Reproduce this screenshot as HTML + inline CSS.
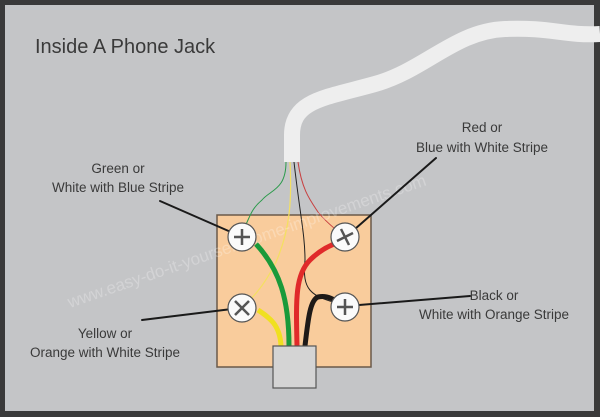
<!DOCTYPE html>
<html><head><style>
html,body{margin:0;padding:0;}
body{width:600px;height:417px;overflow:hidden;background:#333;}
svg{display:block;font-family:"Liberation Sans",sans-serif;}
</style></head><body>
<svg width="600" height="417" viewBox="0 0 600 417" xmlns="http://www.w3.org/2000/svg">
<rect x="0" y="0" width="600" height="417" fill="#3a3a3a"/>
<rect x="5" y="5" width="589" height="406" fill="#c4c5c7"/>
<text x="35" y="53" font-size="20" fill="#3a3a3a">Inside A Phone Jack</text>
<path d="M600,34 C565,36 550,27 505,29 C455,31 425,70 375,84 C325,98 292,100 292,135 L292,162" fill="none" stroke="#eeeeee" stroke-width="16"/>
<rect x="217" y="215" width="154" height="152" fill="#f9cc9c" stroke="#6a5a4a" stroke-width="1.5"/>
<path d="M286,162 C286,190 270,190 262,200 C250,210 250,218 244,228" fill="none" stroke="#2a9a4a" stroke-width="1"/>
<path d="M290,162 C292,200 290,230 276,262 C262,290 250,300 243,306" fill="none" stroke="#f4e060" stroke-width="1.2"/>
<path d="M294,162 C300,215 305,235 305,260 C302,290 310,296 340,304" fill="none" stroke="#222" stroke-width="1"/>
<path d="M298,162 C302,190 310,200 318,212 C326,222 336,230 344,236" fill="none" stroke="#c84040" stroke-width="1"/>
<path d="M281,346 C280,325 270,318 258,310" fill="none" stroke="#f0e020" stroke-width="5"/>
<path d="M289,346 C289,300 280,270 256,244" fill="none" stroke="#1a9a3a" stroke-width="5"/>
<path d="M297,346 C296,300 295,275 310,260 C320,250 330,245 340,242" fill="none" stroke="#e02a2a" stroke-width="5"/>
<path d="M305,346 C308,320 310,300 318,297 C328,295 335,300 340,304" fill="none" stroke="#1e1a18" stroke-width="5"/>
<rect x="273" y="346" width="43" height="42" fill="#d4d4d4" stroke="#555" stroke-width="1.2"/>
<text x="70" y="308" font-size="17" fill="#ffffff" fill-opacity="0.25" transform="rotate(-19 70 308)">www.easy-do-it-yourself-home-improvements.com</text>
<g stroke="#1a1a1a" stroke-linecap="round">
<path d="M160,201 L240,236" stroke-width="2"/>
<path d="M436,158 L347,236" stroke-width="2"/>
<path d="M470,296 L347,306" stroke-width="2"/>
<path d="M142,320 L240,308" stroke-width="2"/>
</g>
<g stroke="#555" stroke-width="1.2" fill="#fafafa">
<circle cx="242" cy="237" r="14"/><circle cx="345" cy="237" r="14"/>
<circle cx="242" cy="308" r="14"/><circle cx="345" cy="307" r="14"/>
</g>
<g stroke="#555" stroke-width="2.5" fill="none">
<path d="M234,237 H250 M242,229 V245"/>
<path d="M337,241 L353,233 M341,229 L349,245"/>
<path d="M235,301 L249,315 M249,301 L235,315"/>
<path d="M337,307 H353 M345,299 V315"/>
</g>
<g font-size="13.5" fill="#3a3a3a" text-anchor="middle">
<text x="118" y="173">Green or</text>
<text x="118" y="192">White with Blue Stripe</text>
<text x="482" y="132">Red or</text>
<text x="482" y="152">Blue with White Stripe</text>
<text x="494" y="300">Black or</text>
<text x="494" y="319">White with Orange Stripe</text>
<text x="105" y="338">Yellow or</text>
<text x="105" y="357">Orange with White Stripe</text>
</g>
</svg>
</body></html>
